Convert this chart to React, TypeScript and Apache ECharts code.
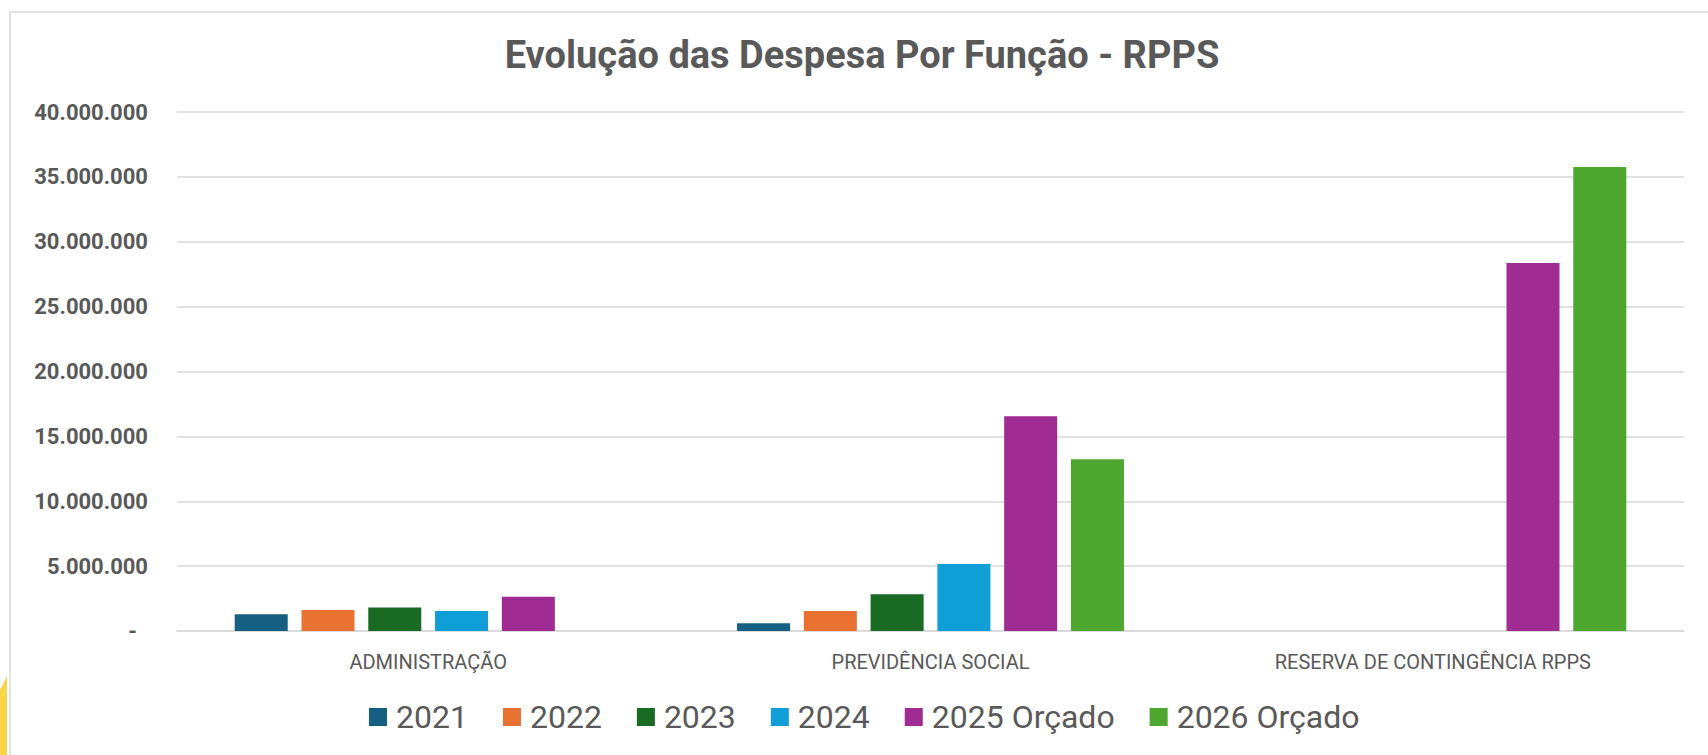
import React, { useEffect, useRef } from "react";
import * as echarts from "echarts";

const categories = ["ADMINISTRAÇÃO", "PREVIDÊNCIA SOCIAL", "RESERVA DE CONTINGÊNCIA RPPS"];
const seriesNames = ["2021", "2022", "2023", "2024", "2025 Orçado", "2026 Orçado"];
const v2021 = [1290000, 590000, null];
const v2022 = [1620000, 1540000, null];
const v2023 = [1820000, 2830000, null];
const v2024 = [1540000, 5160000, null];
const v2025 = [2640000, 16560000, 28370000];
const v2026 = [null, 13230000, 35760000];
const seriesValues = [v2021, v2022, v2023, v2024, v2025, v2026];
const colors = ["#156082", "#E97132", "#196B24", "#0F9ED5", "#A02B93", "#4EA72E"];
const yMin = 0;
const yMax = 40000000;
const yInterval = 5000000;
const titleText = "Evolução das Despesa Por Função - RPPS";

function fmt(v: number): string {
  if (v === 0) return "{z|-}";
  return String(Math.round(v)).replace(/\B(?=(\d{3})+(?!\d))/g, ".");
}

export default function App() {
  const ref = useRef<HTMLDivElement>(null);
  useEffect(() => {
    if (!ref.current) return;
    const chart = echarts.init(ref.current, null, { renderer: "svg" });
    const textColor = "#595959";
    chart.setOption({
      animation: false,
      backgroundColor: "#ffffff",
      color: colors,
      title: {
        text: titleText,
        left: 857,
        textAlign: "center",
        top: 31,
        textStyle: {
          fontFamily: "Roboto",
          fontWeight: "bold",
          fontSize: 38,
          color: textColor,
        },
      },
      legend: {
        data: seriesNames,
        left: 369,
        top: 701,
        padding: 0,
        itemWidth: 18,
        itemHeight: 18,
        itemGap: 35,
        icon: "rect",
        textStyle: {
          fontFamily: "Roboto",
          fontSize: 32,
          color: textColor,
          padding: [0, 0, 0, 4],
        },
      },
      grid: {
        left: 177,
        right: 24,
        top: 112,
        bottom: 124,
        containLabel: false,
      },
      xAxis: {
        type: "category",
        data: categories,
        axisTick: { show: false },
        axisLine: { show: true, lineStyle: { color: "#d9d9d9", width: 1.5 } },
        axisLabel: {
          margin: 21,
          fontFamily: "Roboto",
          fontSize: 20,
          color: textColor,
        },
      },
      yAxis: {
        type: "value",
        min: yMin,
        max: yMax,
        interval: yInterval,
        axisLine: { show: false },
        axisTick: { show: false },
        splitLine: { lineStyle: { color: "#d9d9d9", width: 1.5 } },
        axisLabel: {
          margin: 29,
          fontFamily: "Roboto",
          fontWeight: "bold",
          fontSize: 22,
          color: textColor,
          formatter: (v: number) => fmt(v),
          rich: {
            z: {
              fontFamily: "Roboto",
              fontWeight: "bold",
              fontSize: 22,
              color: textColor,
              padding: [0, 11, 0, 0],
            },
          },
        },
      },
      series: seriesNames.map((name, i) => ({
        name,
        type: "bar",
        data: seriesValues[i],
        barWidth: 53,
        barGap: "26%",
        itemStyle: { color: colors[i] },
      })),
      graphic: [
        {
          type: "rect",
          shape: { x: 10, y: 12, width: 1760, height: 800 },
          style: { fill: "none", stroke: "#d9d9d9", lineWidth: 1.5 },
          silent: true,
          z: -1,
        },
        {
          type: "polygon",
          shape: { points: [[0, 690], [7, 676], [7, 755], [0, 755]] },
          style: { fill: "#F9D548" },
          silent: true,
        },
      ],
    });
    return () => chart.dispose();
  }, []);
  return (
    <div
      ref={ref}
      style={{ position: "fixed", left: 0, top: 0, width: 1708, height: 755 }}
    />
  );
}
